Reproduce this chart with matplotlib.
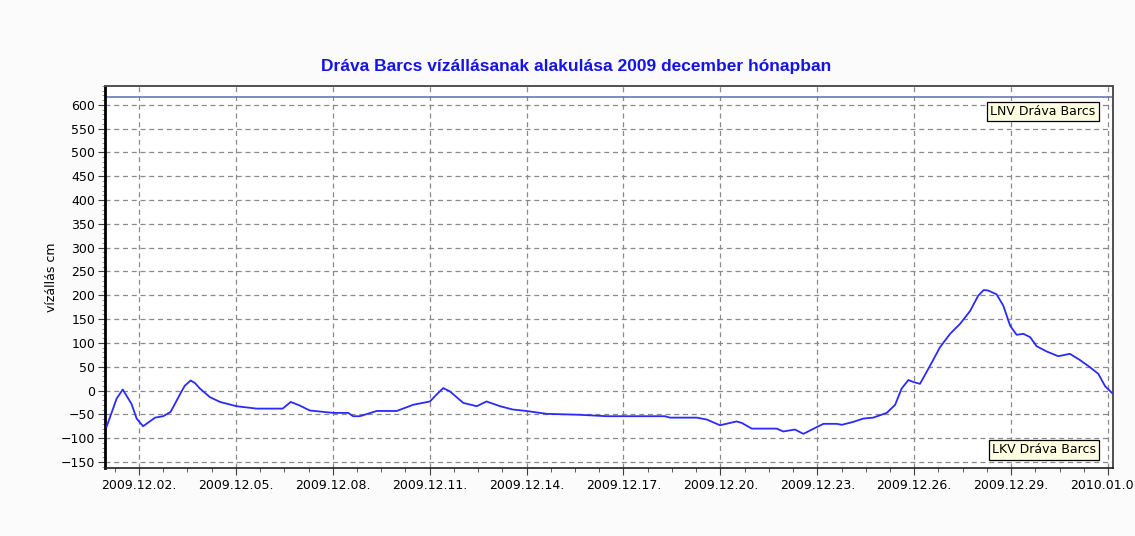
#Dráva Barcs water level, December 2009
import numpy as np
import pandas as pd
import matplotlib
matplotlib.use("Agg")
import matplotlib.pyplot as plt
import matplotlib.dates as mdates

plt.rcParams['font.family'] = ['DejaVu Sans']

#Data: days since 2009.12.01 00:00 and water level in cm
days = [0.00, 0.20, 0.31, 0.50, 0.77, 0.93, 1.13, 1.50, 1.75, 1.98, 2.17, 2.32,
        2.42, 2.60, 2.73, 2.89, 3.20, 3.51, 4.02,
        4.64, 5.45, 5.70, 5.96, 6.29, 7.02, 7.48, 7.63, 7.84, 8.36, 8.98, 9.49,
        10.01, 10.22, 10.42, 10.63, 11.04, 11.46, 11.76, 12.18, 12.58, 13.00, 13.62,
        14.65, 15.48, 17.28, 17.44, 18.27, 18.58, 18.99, 19.50, 19.66, 19.97,
        20.74, 20.95, 21.31, 21.57, 21.98, 22.19, 22.60, 22.76, 23.11, 23.42,
        23.73, 24.15, 24.41, 24.61, 24.82, 24.97, 25.18, 25.49, 25.80, 26.11,
        26.42, 26.73, 26.98, 27.15, 27.29, 27.55, 27.76, 27.97, 28.17, 28.38, 28.59,
        28.79, 29.10, 29.46, 29.82, 30.13, 30.44, 30.70, 30.91, 31.12]
level = [-76, -38, -17, 2, -28, -59, -75, -57, -54, -45, -21, -2,
         10, 21, 16, 4, -14, -24, -33,
         -38, -38, -24, -31, -42, -47, -47, -54, -54, -43, -43, -30,
         -23, -8, 5, -2, -26, -33, -23, -33, -40, -43, -49,
         -51, -54, -54, -57, -57, -61, -73, -65, -68, -80,
         -80, -86, -82, -91, -77, -70, -70, -72, -66, -59,
         -57, -47, -30, 4, 22, 18, 14, 52, 91, 119,
         140, 167, 199, 211, 210, 202, 178, 136, 117, 119, 112,
         93, 82, 72, 77, 64, 49, 35, 9, -5]
lnv_level = 616
y_ticks = list(range(-150, 601, 50))
title = "Dráva Barcs vízállásanak alakulása 2009 december hónapban"

start = pd.Timestamp("2009-12-01")
times = start + pd.to_timedelta(days, unit="D")

fig = plt.figure(figsize=(11.35, 5.36), dpi=100, facecolor="#fbfbfb")
ax = fig.add_axes([0.0925, 0.127, 0.888, 0.713])
ax.set_facecolor("white")

ax.plot(times, level, color="#2a2aff", lw=1.3, zorder=3)
ax.axhline(lnv_level, color="#6b78b0", lw=1.2, zorder=2)

#Axis ranges
ax.set_xlim(start - pd.Timedelta(hours=1.2), start + pd.Timedelta(days=31.15))
ax.set_ylim(-162.6, 640)

#Ticks
major = pd.date_range("2009-12-02", "2010-01-01", freq="3D")
minor = pd.date_range("2009-12-01 06:00", "2010-01-01 06:00", freq="18h")
ax.set_xticks(major)
ax.set_xticks(minor, minor=True)
ax.xaxis.set_major_formatter(mdates.DateFormatter("%Y.%m.%d."))
ax.set_yticks(y_ticks)
ax.set_yticks(range(-160, 641, 10), minor=True)
ax.tick_params(axis="both", which="major", labelsize=9, length=5, color="#404040")
ax.tick_params(axis="x", which="minor", length=3, color="#404040")
ax.tick_params(axis="y", which="minor", length=2, color="#808080")
ax.tick_params(axis="x", pad=3)
ax.tick_params(axis="y", pad=2)

#Grid
ax.grid(True, which="major", color="#8a8a8a", linestyle=(0, (4, 3)), lw=0.9)

#Frame
ax.spines["left"].set_linewidth(2.0)
ax.spines["left"].set_color("black")
ax.spines["bottom"].set_linewidth(1.2)
ax.spines["bottom"].set_color("#202020")
for s in ["top", "right"]:
    ax.spines[s].set_linewidth(1.4)
    ax.spines[s].set_color("#505050")

ax.set_ylabel("vízállás cm", fontsize=9, labelpad=2)
fig.text(0.508, 0.876, title, ha="center", va="center", fontsize=12.5,
         fontweight="bold", color="#1414e6", family=["Liberation Sans", "DejaVu Sans"])

#Level labels
box = dict(boxstyle="square,pad=0.25", facecolor="#ffffe1", edgecolor="black", lw=0.9)
ax.text(0.983, 0.932, "LNV Dráva Barcs", transform=ax.transAxes, ha="right",
        va="center", fontsize=9, bbox=box, zorder=5)
ax.text(0.983, 0.047, "LKV Dráva Barcs", transform=ax.transAxes, ha="right",
        va="center", fontsize=9, bbox=box, zorder=5)

fig.savefig("out.png", dpi=100, facecolor=fig.get_facecolor())
plt.close()
